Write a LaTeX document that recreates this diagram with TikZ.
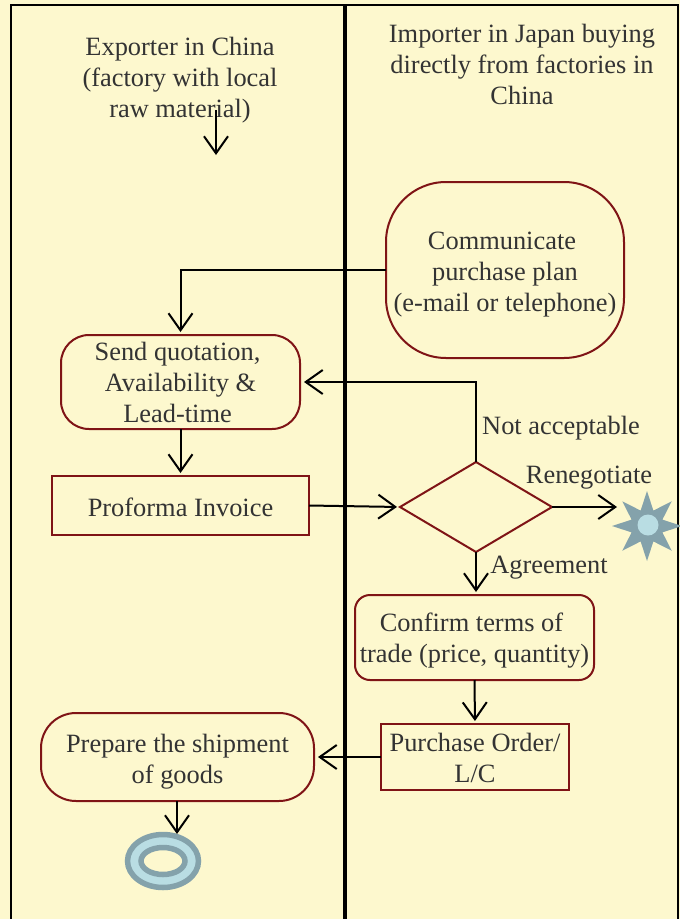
\documentclass[tikz,border=0pt]{standalone}
\usepackage{fontspec}
\setmainfont{Liberation Serif}
\usetikzlibrary{positioning,calc,arrows.meta,shapes.geometric}
\definecolor{lanebg}{HTML}{FDF8CE}
\definecolor{boxred}{HTML}{7F1416}
\definecolor{labelgray}{HTML}{333333}
\definecolor{stategray}{HTML}{84A2AB}
\definecolor{statecyan}{HTML}{B9DDE3}
\newcommand{\linedrop}[1]{\rule{0pt}{#1}}
\newcommand{\linepad}{\hspace*{6pt}}

\begin{document}
\begin{tikzpicture}[x=1pt,y=-1pt,->,>={Straight Barb[length=17pt,width=24pt,line width=2pt]},line width=2pt,
                main node/.style={draw=boxred,line width=2pt,inner sep=0pt,outer sep=0pt,align=center,text=labelgray,font=\fontsize{26.4}{31}\selectfont},
                plain text/.style={inner sep=0pt,align=center,text=labelgray,font=\fontsize{26.4}{31}\selectfont}]
\useasboundingbox (0,0) rectangle (680,919);
\fill[lanebg] (0,0) rectangle (680,919);
%Lanes
    \draw[-,black,line width=2.5pt] (11,925) -- (11,5) -- (678,5) -- (678,925);
    \draw[-,black,line width=3.5pt] (345,5) -- (345,925);

%Headers
    \node[plain text] (Exporter) at (180,80) {Exporter in China\\(factory with local\\raw material)};
    \node[plain text] (Importer) at (522,64.5) {Importer in Japan buying\\directly from factories in\\China};

%Nodes
    \node[main node, rounded corners=60pt, minimum width=238pt, minimum height=176pt] (Plan) at (505,270) {\linedrop{27pt}Communicate\linepad\\purchase plan\linepad\\(e-mail or telephone)};
    \node[main node, rounded corners=28pt, minimum width=239pt, minimum height=94pt] (Quote) at (180.5,382) {\linedrop{20pt}Send quotation,\linepad\\Availability \&\linepad\\Lead-time\linepad};
    \node[main node, minimum width=257pt, minimum height=59pt] (Proforma) at (180.5,505.5) {\linedrop{22pt}Proforma Invoice};
    \node[main node, shape=diamond, minimum width=152pt, minimum height=90pt] (Check) at (476,507) {};
    \node[main node, rounded corners=15pt, minimum width=239pt, minimum height=85pt] (Terms) at (474.5,637.5) {\linedrop{25pt}Confirm terms of\linepad\\trade (price, quantity)};
    \node[main node, minimum width=188pt, minimum height=66pt] (Order) at (475,757) {\linedrop{21pt}Purchase Order/\\L/C};
    \node[main node, rounded corners=35pt, minimum width=273pt, minimum height=88pt] (Ship) at (177.5,757) {\linedrop{27pt}Prepare the shipment\\of goods};

%End states
    \node[shape=star, star points=8, star point ratio=2.1, fill=stategray, inner sep=0pt, minimum size=70pt] (Stop) at (647,526) {};
    \node[circle, fill=statecyan, inner sep=0pt, minimum size=21pt] (StopCore) at (648,525) {};
    \node[ellipse, draw=stategray, fill=statecyan, line width=5.5pt, inner sep=0pt, outer sep=0pt, minimum width=71pt, minimum height=53pt] (Done) at (163,861) {};
    \node[ellipse, draw=stategray, fill=lanebg, line width=5.5pt, inner sep=0pt, minimum width=44pt, minimum height=27pt] (DoneCore) at (163,861) {};

%Free ends
    \coordinate (StartTop) at (216,110);
    \coordinate (StartEnd) at (216,155);
    \coordinate (StopIn) at (617,507);
    \coordinate (DoneIn) at (177,834);

%Labels
    \node[plain text] (NotOk) at (561,428) {Not acceptable};
    \node[plain text] (Reneg) at (589,478) {Renegotiate};
    \node[plain text] (Agree) at (549,568) {Agreement};

%Connectors
    \path[->] (StartTop) edge (StartEnd);
    \draw[->,shorten >=3pt] (Plan.west) -| (Quote.north);
    \path[->,shorten >=3pt] (Quote.south) edge (Proforma.north);
    \draw[->,shorten >=4pt] (Check.north) |- (Quote.east);
    \path[->,shorten >=3pt] (Proforma.east) edge (Check.west);
    \path[->] (Check.east) edge (StopIn);
    \path[->,shorten >=3pt] (Check.south) edge (Check.south |- Terms.north);
    \path[->,shorten >=3pt] (Terms.south) edge (Order.north);
    \path[->,shorten >=4pt] (Order.west) edge (Ship.east);
    \path[->] (Ship.south -| DoneIn) edge (DoneIn);
\end{tikzpicture}
\end{document}
